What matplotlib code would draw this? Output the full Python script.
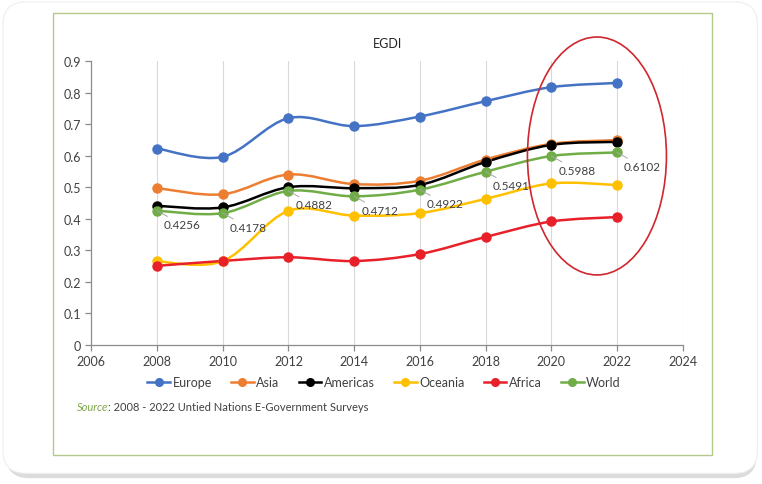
import matplotlib
matplotlib.use("Agg")
import matplotlib.pyplot as plt
from matplotlib.path import Path
from matplotlib.patches import PathPatch, Ellipse, FancyBboxPatch, Rectangle
import numpy as np

plt.rcParams["font.family"] = ["Lato", "DejaVu Sans"]

years = [2008, 2010, 2012, 2014, 2016, 2018, 2020, 2022]
europe = [0.6227, 0.5964, 0.7188, 0.6936, 0.7241, 0.7727, 0.8170, 0.8305]
asia = [0.4973, 0.4776, 0.5403, 0.5099, 0.5205, 0.5877, 0.6373, 0.6493]
americas = [0.4411, 0.4360, 0.5000, 0.4970, 0.5074, 0.5800, 0.6341, 0.6438]
oceania = [0.2650, 0.2660, 0.4250, 0.4100, 0.4180, 0.4630, 0.5120, 0.5070]
africa = [0.2508, 0.2664, 0.2780, 0.2661, 0.2882, 0.3423, 0.3914, 0.4054]
world = [0.4256, 0.4178, 0.4882, 0.4712, 0.4922, 0.5491, 0.5988, 0.6102]

series = [
    ("Europe", europe, "#4472C4"),
    ("Asia", asia, "#ED7D31"),
    ("Americas", americas, "#000000"),
    ("Oceania", oceania, "#FFC000"),
    ("Africa", africa, "#E8202A"),
    ("World", world, "#70AD47"),
]


def smooth_path(xs, ys):
    # Excel-like smoothed line: Catmull-Rom segments as cubic Beziers
    pts = np.column_stack([xs, ys]).astype(float)
    verts = [pts[0]]
    codes = [Path.MOVETO]
    n = len(pts)
    for i in range(n - 1):
        p0 = pts[i - 1] if i > 0 else pts[i]
        p1 = pts[i]
        p2 = pts[i + 1]
        p3 = pts[i + 2] if i + 2 < n else pts[i + 1]
        c1 = p1 + (p2 - p0) / 6.0
        c2 = p2 - (p3 - p1) / 6.0
        verts += [c1, c2, p2]
        codes += [Path.CURVE4] * 3
    return Path(verts, codes)


fig = plt.figure(figsize=(7.62, 4.85), dpi=100)

# card background with shadow
shadow = FancyBboxPatch((0.008, 0.012), 0.985, 0.975, boxstyle="round,pad=0,rounding_size=0.03",
                        transform=fig.transFigure, facecolor="#dcdcdc", edgecolor="none",
                        mutation_aspect=762 / 485, zorder=-3)
card = FancyBboxPatch((0.004, 0.022), 0.99, 0.972, boxstyle="round,pad=0,rounding_size=0.03",
                      transform=fig.transFigure, facecolor="white", edgecolor="#eeeeee",
                      linewidth=0.8, mutation_aspect=762 / 485, zorder=-2)
border = Rectangle((53 / 762, 1 - 456 / 485), (712 - 53) / 762, (456 - 14) / 485,
                   transform=fig.transFigure, facecolor="none", edgecolor="#b5c98a",
                   linewidth=1.0, zorder=-1)
fig.patches.extend([shadow, card, border])

ax = fig.add_axes([91.3 / 762, 1 - 346 / 485, (682.7 - 91.3) / 762, (346 - 62) / 485])
ax.set_zorder(2)
ax.set_facecolor("none")
ax.set_xlim(2006, 2024)
ax.set_ylim(0, 0.9)
ax.set_xticks(range(2006, 2025, 2))
ax.set_yticks(np.arange(0, 0.91, 0.1))
ax.set_yticklabels(["0"] + [f"{v:.1f}" for v in np.arange(0.1, 0.91, 0.1)])
for x in range(2008, 2025, 2):
    ax.axvline(x, color="#d9d9d9", linewidth=0.8, zorder=0)
for side in ["top", "right"]:
    ax.spines[side].set_visible(False)
for side in ["left", "bottom"]:
    ax.spines[side].set_color("#8c8c8c")
    ax.spines[side].set_linewidth(0.9)
ax.tick_params(axis="both", colors="#8c8c8c", labelcolor="#404040", labelsize=9,
               length=4, width=0.9)

for name, vals, color in series:
    ax.add_patch(PathPatch(smooth_path(years, vals), facecolor="none", edgecolor=color,
                           linewidth=1.8, zorder=3))
    ax.plot(years, vals, linestyle="none", marker="o", markersize=6.5, color=color,
            zorder=4)
    ax.plot([], [], color=color, linewidth=1.8, marker="o", markersize=5.5, label=name)

for x, v in zip(years, world):
    ax.annotate(f"{v:.4f}", xy=(x, v), xytext=(7, -14), textcoords="offset pixels",
                ha="left", va="center", fontsize=8.5, color="#404040", zorder=5,
                arrowprops=dict(arrowstyle="-", color="#a6a6a6", linewidth=0.7,
                                shrinkA=0, shrinkB=0))

ax.set_title("EGDI", fontsize=9, color="#262626", pad=10)

ell = Ellipse((2021.39, 0.599), 4.23, 0.754, facecolor="none", edgecolor="#D0262D",
              linewidth=1.2, clip_on=False, zorder=6)
ax.add_patch(ell)

fig.legend(loc="center", bbox_to_anchor=(384 / 762, 1 - 383 / 485), ncol=6, frameon=False,
           fontsize=9, handlelength=1.8, handletextpad=0.2, columnspacing=1.55,
           labelcolor="#404040")

src = fig.text(77 / 762, 1 - 408 / 485, "Source", style="italic", color="#7FA84A",
               fontsize=8, va="center", ha="left")
ax.annotate(": 2008 - 2022 Untied Nations E-Government Surveys", xy=(1, 0.5),
            xycoords=src, xytext=(0, 0), textcoords="offset points", va="center",
            ha="left", fontsize=8, color="#404040", annotation_clip=False)

fig.savefig("out.png", dpi=100)
